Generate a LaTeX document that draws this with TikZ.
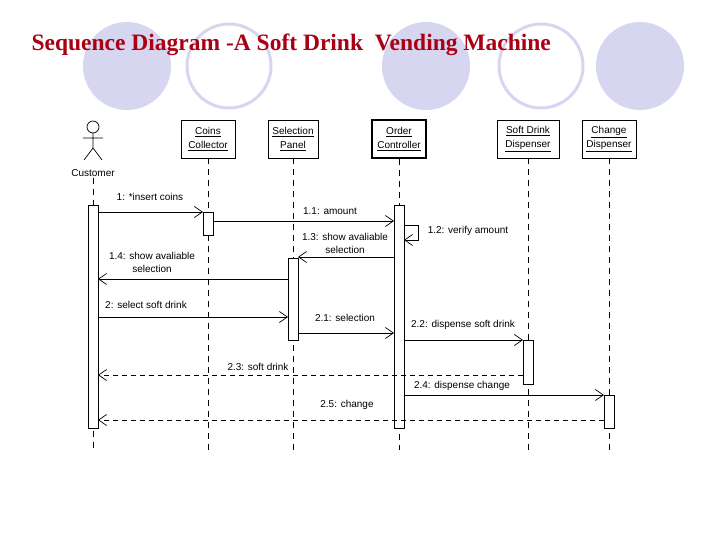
\documentclass[tikz,border=0pt]{standalone}
\usepackage{fontspec}
\setmainfont{Liberation Sans}
\newfontfamily\titlefont{Liberation Serif}
\usetikzlibrary{arrows.meta}
\definecolor{lav}{RGB}{214,214,240}
\definecolor{titlered}{RGB}{170,0,20}
\tikzset{
  obj/.style={draw, minimum width=54pt, minimum height=38pt, align=center, font=\fontsize{10}{14}\selectfont, inner sep=1pt},
  life/.style={dash pattern=on 6pt off 5pt, line width=0.7pt},
  act/.style={draw, fill=white, line width=0.7pt},
  msg/.style={-{Straight Barb[length=8pt,width=11pt]}, line width=0.7pt},
  ret/.style={msg, dash pattern=on 5pt off 4pt},
  lbl/.style={font=\fontsize{10}{13}\selectfont, align=center, inner sep=1pt}
}
\begin{document}
\begin{tikzpicture}[x=1pt,y=-1pt]
  \useasboundingbox (0,0) rectangle (720,540);
  % background circles
  \fill[lav] (127,66) circle (44);
  \draw[lav, line width=3pt] (229,66) circle (42);
  \fill[lav] (426,66) circle (44);
  \draw[lav, line width=3pt] (541,66) circle (42);
  \fill[lav] (640,66) circle (44);
  \node[anchor=west, font=\titlefont\bfseries\fontsize{23.5}{26}\selectfont, text=titlered] (title) at (28,45) {Sequence Diagram -A Soft Drink~ Vending Machine};
  % objects
  \node[obj] (coins) at (208,139) {\underline{Coins}\\\underline{Collector}};
  \node[obj, minimum width=50pt] (panel) at (293,139) {\underline{Selection}\\\underline{Panel}};
  \node[obj, line width=2.5pt] (order) at (399,139) {\underline{Order}\\\underline{Controller}};
  \node[obj, minimum width=62pt] (drink) at (528,139) {\underline{Soft Drink}\\\underline{Dispenser}};
  \node[obj] (change) at (609,139) {\underline{Change}\\\underline{Dispenser}};
  % actor
  \draw[line width=0.7pt] (93,127) circle (6);
  \draw[line width=0.7pt] (93,133) -- (93,148) (83,138) -- (103,138) (84,160) -- (93,148) -- (102,160);
  \node[lbl] (cust) at (93,173) {Customer};
  % lifelines
  \coordinate (cend) at (93,450);
  \draw[life] (cust.south) -- (cend);
  \foreach \o in {coins,panel,order,drink,change}
    \draw[life] (\o.south) -- (\o.south |- cend);
  % activations
  \draw[act] (88,205) rectangle (98,428);
  \draw[act] (203,212) rectangle (213,235);
  \draw[act] (288,258) rectangle (298,340);
  \draw[act] (394,205) rectangle (404,428);
  \draw[act] (523,340) rectangle (533,384);
  \draw[act] (604,395) rectangle (614,428);
  % messages
  \draw[msg] (98,212) -- (203,212);
  \node[lbl] (m1) at (150,197) {1: *insert coins};
  \draw[msg] (213,221) -- (394,221);
  \node[lbl] (m11) at (330,211) {1.1: amount};
  \draw[msg] (404,225) -- (418,225) -- (418,240) -- (404,240);
  \node[lbl] (m12) at (468,231) {1.2: verify amount};
  \draw[msg] (394,257) -- (298,257);
  \node[lbl] (m13) at (345,243) {1.3: show avaliable\\selection};
  \draw[msg] (288,279) -- (98,279);
  \node[lbl] (m14) at (152,262) {1.4: show avaliable\\selection};
  \draw[msg] (98,317) -- (288,317);
  \node[lbl] (m2) at (146,305) {2: select soft drink};
  \draw[msg] (298,333) -- (394,333);
  \node[lbl] (m21) at (345,318) {2.1: selection};
  \draw[msg] (404,340) -- (523,340);
  \node[lbl] (m22) at (463,325) {2.2: dispense soft drink};
  \draw[ret] (523,375) -- (98,375);
  \node[lbl] (m23) at (258,367) {2.3: soft drink};
  \draw[msg] (404,395) -- (604,395);
  \node[lbl] (m24) at (462,386) {2.4: dispense change};
  \draw[ret] (604,420) -- (98,420);
  \node[lbl] (m25) at (347,405) {2.5: change};
\end{tikzpicture}
\end{document}
